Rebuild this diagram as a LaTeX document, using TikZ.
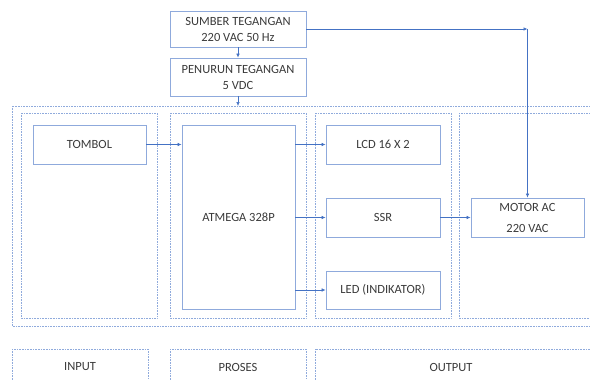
\documentclass[tikz,border=0pt]{standalone}
\usepackage{fontspec}
\setmainfont{Carlito}
\usepackage{tikz}
\usetikzlibrary{arrows.meta,positioning,calc}
\definecolor{BoxLine}{HTML}{8FAADC}
\definecolor{ArrLine}{HTML}{4472C4}
\definecolor{TxtGray}{HTML}{3A3A3A}

\begin{document}
\begin{tikzpicture}[x=1pt,y=-1pt,
  blok/.style={draw=BoxLine,line width=0.8pt,minimum width=113pt,minimum height=39pt,align=center,font=\fontsize{12.5}{16}\selectfont,text=TxtGray,inner sep=1pt},
  grup/.style={draw=BoxLine,densely dotted,line width=0.6pt},
  lbl/.style={font=\fontsize{12.5}{15}\selectfont,text=TxtGray},
  arr/.style={-{Latex[length=4pt,width=3.6pt]},ArrLine,line width=0.6pt},
]
\useasboundingbox (0,0) rectangle (590,380);
\clip (0,0) rectangle (590,380);
% groups
\draw[grup] (12,106) rectangle (600,326);
\draw[grup] (21,113) rectangle (157,318);
\draw[grup] (170,113) rectangle (306,318);
\draw[grup] (315,113) rectangle (451,318);
\draw[grup] (459,113) rectangle (600,318);
% blocks
\node[blok,minimum width=136pt,minimum height=36pt] (sumber) at (238,29) {SUMBER TEGANGAN\\220 VAC 50 Hz};
\node[blok,minimum width=136pt,minimum height=38pt] (penurun) at (238,77) {PENURUN TEGANGAN\\5 VDC};
\node[blok] (tombol) at (89.5,144.5) {TOMBOL};
\node[blok,minimum height=184pt] (atmega) at (238.5,217) {ATMEGA 328P};
\node[blok,minimum width=114pt] (lcd) at (383,144.5) {LCD 16 X 2};
\node[blok,minimum width=114pt] (ssr) at (383,217.5) {SSR};
\node[blok,minimum width=114pt,minimum height=38pt] (led) at (383,290) {LED (INDIKATOR)};
\node[blok,font=\fontsize{12.5}{21}\selectfont] (motor) at (527.5,217.5) {MOTOR AC\\220 VAC};
\coordinate (masuk) at (238,106);
\coordinate (belok) at (motor.north |- sumber.east);
% connectors
\draw[arr] (sumber) -- (penurun);
\draw[arr] (penurun) -- (masuk);
\draw[arr] (tombol.east) -- (tombol.east -| atmega.west);
\draw[arr] (lcd.west -| atmega.east) -- (lcd.west);
\draw[arr] (ssr.west -| atmega.east) -- (ssr.west);
\draw[arr] (led.west -| atmega.east) -- (led.west);
\draw[arr] (ssr) -- (motor);
\draw[arr] (sumber.east) -- (belok);
\draw[arr] (belok) -- (motor.north);
% labels
\draw[grup] (12,349) rectangle (148,395);
\draw[grup] (170,349) rectangle (306,395);
\draw[grup] (315,349) rectangle (600,395);
\node[lbl] (input) at (80,367) {INPUT};
\node[lbl] (proses) at (238,367) {PROSES};
\node[lbl] (output) at (451,367) {OUTPUT};
\end{tikzpicture}
\end{document}
